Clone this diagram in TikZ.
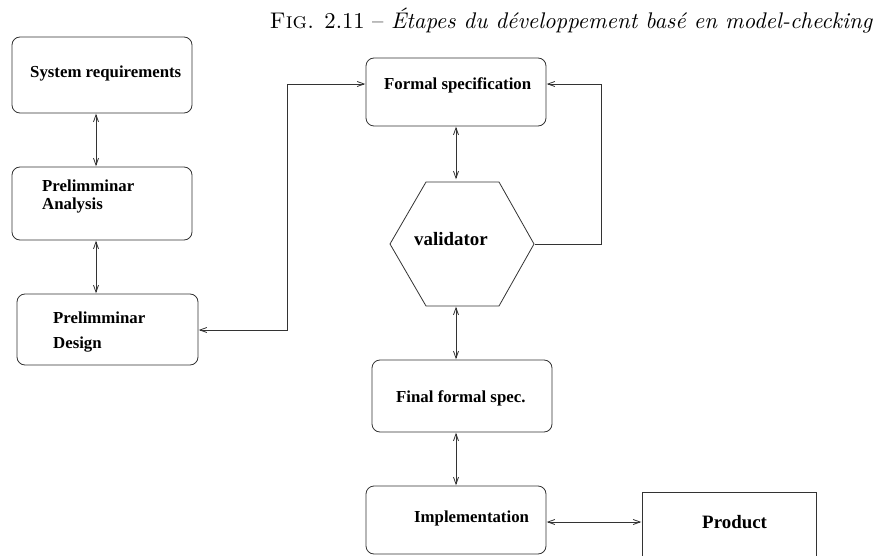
\documentclass[tikz,border=0pt]{standalone}
\usepackage{fontspec}
\usetikzlibrary{arrows.meta}
\newfontfamily\boxfont{Liberation Serif}
\begin{document}
\begin{tikzpicture}[x=1pt,y=-1pt,
  box/.style={draw=black!80,line width=0.8pt,rounded corners=8pt},
  lbl/.style={inner sep=0pt,anchor=base west,font=\boxfont\bfseries\fontsize{16.8}{18}\selectfont},
  big/.style={inner sep=0pt,anchor=base west,font=\boxfont\bfseries\fontsize{18.9}{20}\selectfont},
  conn/.style={draw=black!80,line width=0.8pt,-{Straight Barb[length=7pt,width=5pt]}},
  conn2/.style={draw=black!80,line width=0.8pt,{Straight Barb[length=7pt,width=5pt]}-{Straight Barb[length=7pt,width=5pt]}}]
\useasboundingbox (0,0) rectangle (875,556);
\begin{scope}
\clip (0,0) rectangle (875,556);
% caption
\node[inner sep=0pt,anchor=base east] (cap) at (873,29) {\resizebox{603pt}{!}{\textsc{Fig.} 2.11 -- \textit{Étapes du développement basé en model-checking}}};
% boxes
\draw[box] (12,37) rectangle (192,113);
\coordinate (sr) at (96,113);
\draw[box] (12,167) rectangle (192,240);
\draw[box] (17,294) rectangle (198,365);
\draw[box] (366,58) rectangle (546,126);
\draw[box] (372,360) rectangle (552,432);
\draw[box] (366,486) rectangle (546,554);
\draw[draw=black!80,line width=0.8pt] (642,570) -- (642,492) -- (816,492) -- (816,570);
% hexagon
\draw[draw=black!80,line width=0.8pt] (390,244) -- (426,182) -- (499,182) -- (534,244) -- (499,306) -- (426,306) -- cycle;
% named anchor nodes
\node[inner sep=0pt] (srB) at (96,113) {};
\node[inner sep=0pt] (paT) at (96,167) {};
\node[inner sep=0pt] (paB) at (96,240) {};
\node[inner sep=0pt] (pdT) at (96,294) {};
\node[inner sep=0pt] (pdR) at (198,330) {};
\node[inner sep=0pt] (fsL) at (366,84) {};
\node[inner sep=0pt] (fsR) at (546,84) {};
\node[inner sep=0pt] (fsB) at (456,126) {};
\node[inner sep=0pt] (vT) at (456,180) {};
\node[inner sep=0pt] (vB) at (456,306) {};
\node[inner sep=0pt] (vR) at (534,244) {};
\node[inner sep=0pt] (ffT) at (456,360) {};
\node[inner sep=0pt] (ffB) at (456,432) {};
\node[inner sep=0pt] (imT) at (456,486) {};
\node[inner sep=0pt] (imR) at (546,522) {};
\node[inner sep=0pt] (prL) at (642,522) {};
% labels
\node[lbl] (t1) at (30,78) {System requirements};
\node[lbl] (t2) at (42,192) {Prelimminar};
\node[lbl] (t3) at (42,210) {Analysis};
\node[lbl] (t4) at (53,323) {Prelimminar};
\node[lbl] (t5) at (53,348) {Design};
\node[lbl] (t6) at (384,90) {Formal specification};
\node[big] (t7) at (414,245) {validator};
\node[lbl] (t8) at (396,402) {Final formal spec.};
\node[lbl] (t9) at (414,522) {Implementation};
\node[big] (t10) at (702,528) {Product};
% connectors
\draw[conn2] (srB) -- (paT);
\draw[conn2] (paB) -- (pdT);
\draw[conn2] (pdR) -- (287,330) -- (287,84) -- (fsL);
\draw[conn] (vR) -- (601,244) -- (601,84) -- (fsR);
\draw[conn2] (fsB) -- (vT);
\draw[conn2] (vB) -- (ffT);
\draw[conn2] (ffB) -- (imT);
\draw[conn2] (imR) -- (prL);
\end{scope}
\end{tikzpicture}
\end{document}
